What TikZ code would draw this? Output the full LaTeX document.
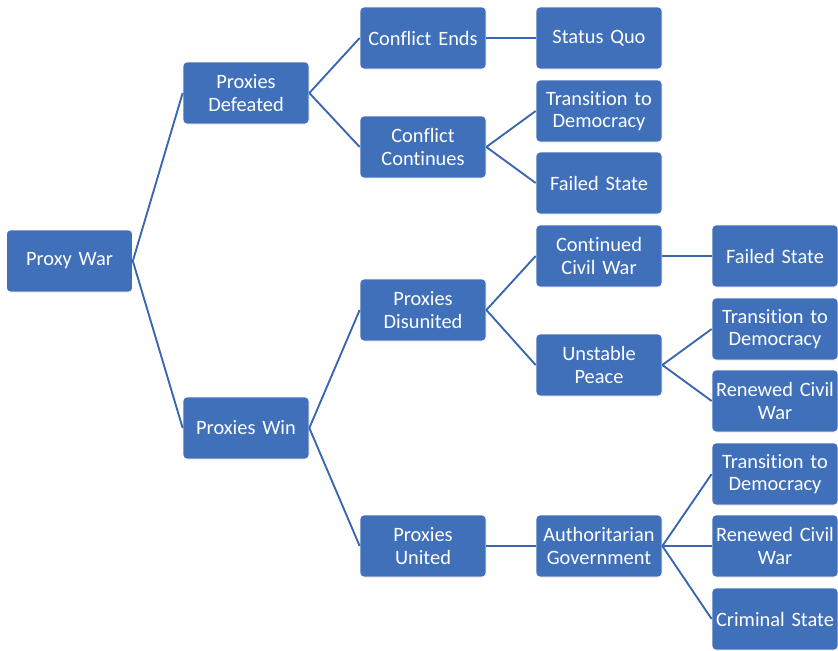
\documentclass[tikz,border=0pt]{standalone}
\usepackage{fontspec}
\setmainfont{Carlito}[Ligatures=NoCommon]
\definecolor{cBox}{RGB}{64,112,186}
\definecolor{cLine}{RGB}{56,102,176}

\begin{document}
\begin{tikzpicture}[x=0.75pt, y=-0.75pt,
    every node/.style={font=\fontsize{15.3}{17}\selectfont},
    leaf/.style={fill=cBox, draw=white, line width=0.5pt, rounded corners=3pt,
      text=white, align=center, minimum width=94.5pt, minimum height=46.5pt,
      inner sep=1pt, text width=92pt},
    link/.style={draw=cLine, line width=1.4pt}]
  \useasboundingbox (0,0) rectangle (838,650);
  % root
  \node[leaf] (war) at (69.5,261) {Proxy War};
  % second level
  \node[leaf] (defeated) at (246,93) {Proxies\\Defeated};
  \node[leaf] (win) at (246,428) {Proxies Win};
  % third level
  \node[leaf] (ends) at (423,38) {Conflict Ends};
  \node[leaf] (continues) at (423,147) {Conflict\\Continues};
  \node[leaf] (disunited) at (423,310) {Proxies\\Disunited};
  \node[leaf] (united) at (423,546) {Proxies\\United};
  % fourth level
  \node[leaf] (quo) at (599,38) {Status Quo};
  \node[leaf] (demA) at (599,111) {Transition to\\Democracy};
  \node[leaf] (failA) at (599,183) {Failed State};
  \node[leaf] (civil) at (599,256) {Continued\\Civil War};
  \node[leaf] (peace) at (599,365) {Unstable\\Peace};
  \node[leaf] (auth) at (599,546) {Authoritarian\\Government};
  % fifth level
  \node[leaf] (failB) at (775,256) {Failed State};
  \node[leaf] (demB) at (775,329) {Transition to\\Democracy};
  \node[leaf] (renewA) at (775,401) {Renewed Civil\\War};
  \node[leaf] (demC) at (775,474) {Transition to\\Democracy};
  \node[leaf] (renewB) at (775,546) {Renewed Civil\\War};
  \node[leaf] (crime) at (775,619) {Criminal State};
  % connectors
  \foreach \a/\b in {war/defeated, war/win, defeated/ends, defeated/continues,
                     win/disunited, win/united, ends/quo, continues/demA,
                     continues/failA, disunited/civil, disunited/peace,
                     united/auth, civil/failB, peace/demB, peace/renewA,
                     auth/demC, auth/renewB, auth/crime}
    \draw[link] (\a.east) -- (\b.west);
\end{tikzpicture}
\end{document}
